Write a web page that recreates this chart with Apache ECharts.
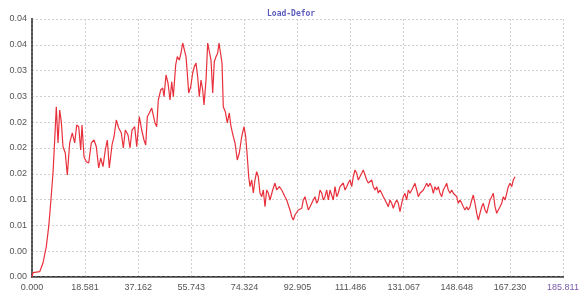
<!DOCTYPE html>
<html>
<head>
<meta charset="utf-8">
<script src="https://cdn.jsdelivr.net/npm/echarts@6/dist/echarts.min.js"></script>
<style>
  html, body { margin: 0; padding: 0; background: #fff; }
  #chart { width: 587px; height: 299px; }
</style>
</head>
<body>
<div id="chart"></div>
<script>
// values
var titleText = 'Load-Defor';
var xTickLabels = ['0.000', '18.581', '37.162', '55.743', '74.324', '92.905', '111.486', '131.067', '148.648', '167.230', '185.811'];
var xMax = 185.811;
var yMax = 0.04;
var yStep = 0.004;

var displacement = [
  0, 0.35, 2.69, 3.85, 5.0, 5.84, 6.54, 7.35, 7.94, 8.5, 9.1, 9.69, 10.25, 10.85, 11.65, 12.35, 13.19, 14.1, 14.94, 15.64,
  16.34, 17.04, 17.5, 18.2, 19.0, 19.84, 20.75, 21.7, 22.5, 23.34, 24.04, 24.85, 25.65, 26.35, 27.05, 28.0, 28.7, 29.5, 30.34, 31.25,
  31.95, 32.65, 33.6, 34.3, 35.0, 35.94, 36.64, 37.55, 38.39, 39.19, 39.79, 40.35, 41.05, 41.89, 42.45, 43.04, 43.64, 44.2, 45.04, 45.74,
  46.19, 46.89, 47.59, 48.29, 48.89, 49.45, 50.28, 50.84, 51.55, 52.14, 52.74, 53.29, 53.89, 54.34, 54.83, 55.53, 56.23, 56.79, 57.39, 57.98,
  58.54, 59.14, 59.73, 60.19, 60.89, 61.48, 62.04, 62.64, 63.23, 63.79, 64.39, 64.98, 65.44, 66.03, 66.49, 66.94, 67.64, 68.34, 69.04, 69.64,
  70.44, 71.04, 71.84, 72.54, 73.38, 74.19, 74.78, 75.34, 75.83, 76.28, 76.88, 77.44, 78.03, 78.63, 79.19, 79.78, 80.38, 80.94, 81.53, 82.13,
  82.69, 83.28, 84.23, 85.03, 85.63, 86.54, 87.38, 87.94, 88.53, 89.13, 89.69, 90.28, 90.88, 91.44, 92.03, 92.63, 93.19, 93.78, 94.38, 94.94,
  95.53, 96.13, 96.69, 97.28, 97.88, 98.44, 99.03, 99.63, 100.19, 100.78, 101.38, 101.94, 102.53, 103.13, 103.69, 104.28, 105.43, 106.03, 106.63, 107.18,
  107.78, 108.37, 108.93, 109.53, 110.12, 110.68, 111.28, 111.87, 112.43, 113.03, 113.62, 114.18, 114.78, 115.37, 115.93, 116.53, 117.12, 117.68, 118.28, 118.87,
  119.43, 120.03, 120.62, 121.18, 121.78, 122.37, 122.93, 123.53, 124.12, 124.68, 125.27, 125.87, 126.43, 127.02, 127.62, 128.18, 128.77, 129.37, 129.93, 130.52,
  131.12, 131.68, 132.27, 132.87, 133.43, 134.02, 134.62, 135.18, 135.77, 136.37, 136.93, 137.52, 138.12, 138.68, 139.27, 139.87, 140.43, 141.02, 141.62, 142.18,
  142.77, 143.37, 143.93, 144.52, 145.12, 145.67, 146.27, 146.87, 147.42, 148.02, 148.62, 149.17, 149.77, 150.37, 150.92, 151.52, 152.12, 152.67, 153.27, 153.87,
  154.42, 155.02, 155.62, 156.17, 156.77, 157.37, 157.92, 158.52, 159.12, 159.67, 160.27, 160.87, 161.42, 162.02, 162.62, 163.17, 163.77, 164.37, 164.92, 165.52,
  166.12, 166.67, 167.27, 167.87, 168.42, 169.02
];
var load = [
  0, 0.00067, 0.00082, 0.00217, 0.0047, 0.0078, 0.01147, 0.01612, 0.02124, 0.0264, 0.02078, 0.02589, 0.02408, 0.0202, 0.01922, 0.01581, 0.02078, 0.02233, 0.02078, 0.02357,
  0.0233, 0.01969, 0.02357, 0.01865, 0.01788, 0.01767, 0.02078, 0.02124, 0.0202, 0.0169, 0.01845, 0.0171, 0.01969, 0.02124, 0.0169, 0.02047, 0.02175, 0.02434, 0.0231, 0.02233,
  0.02, 0.02279, 0.02202, 0.02, 0.02279, 0.0233, 0.0202, 0.02485, 0.02279, 0.02124, 0.02047, 0.02485, 0.02543, 0.0262, 0.0262, 0.02388, 0.0233, 0.02744, 0.02899, 0.0293,
  0.02795, 0.03132, 0.03008, 0.02744, 0.03028, 0.02795, 0.03287, 0.03416, 0.03364, 0.03473, 0.03628, 0.03628, 0.03416, 0.03163, 0.02853, 0.0295, 0.03163, 0.0326, 0.03318, 0.03105,
  0.02795, 0.03054, 0.02899, 0.02667, 0.03054, 0.03628, 0.03628, 0.03364, 0.02853, 0.03338, 0.03416, 0.03473, 0.03628, 0.03628, 0.03318, 0.0264, 0.02563, 0.02388, 0.02543, 0.0233,
  0.02175, 0.02078, 0.01814, 0.01922, 0.02175, 0.0233, 0.02175, 0.01865, 0.01555, 0.014, 0.01504, 0.01302, 0.01504, 0.01633, 0.01555, 0.01302, 0.01245, 0.01349, 0.0109, 0.01349,
  0.01302, 0.01194, 0.01349, 0.01457, 0.01349, 0.014, 0.01349, 0.01349, 0.01245, 0.01194, 0.01116, 0.01039, 0.00935, 0.00884, 0.00961, 0.00988, 0.01039, 0.01039, 0.01065, 0.01194,
  0.01245, 0.01143, 0.01039, 0.0109, 0.0109, 0.01194, 0.01245, 0.01143, 0.01194, 0.01349, 0.01302, 0.01194, 0.01245, 0.01349, 0.01194, 0.01349, 0.01194, 0.014, 0.01245, 0.01302,
  0.014, 0.014, 0.01457, 0.01349, 0.014, 0.01457, 0.01504, 0.014, 0.01555, 0.01659, 0.01608, 0.01504, 0.01504, 0.01608, 0.01659, 0.01659, 0.01504, 0.01457, 0.01457, 0.01504,
  0.014, 0.01349, 0.014, 0.01302, 0.01349, 0.01298, 0.01245, 0.0122, 0.01143, 0.0109, 0.01194, 0.01143, 0.01065, 0.01143, 0.01194, 0.01143, 0.01012, 0.01143, 0.01245, 0.01298,
  0.01194, 0.01349, 0.01298, 0.01349, 0.014, 0.01453, 0.01349, 0.01245, 0.01298, 0.01298, 0.01349, 0.014, 0.01453, 0.014, 0.01453, 0.014, 0.01298, 0.014, 0.01349, 0.014,
  0.01298, 0.01245, 0.01349, 0.014, 0.01453, 0.01349, 0.01298, 0.01349, 0.01298, 0.01298, 0.01245, 0.01143, 0.01194, 0.01143, 0.0109, 0.01039, 0.0109, 0.01039, 0.0109, 0.01194,
  0.01271, 0.01143, 0.00988, 0.00884, 0.00988, 0.0109, 0.01143, 0.01039, 0.00988, 0.0109, 0.01194, 0.01245, 0.01298, 0.0109, 0.00988, 0.01039, 0.0109, 0.01143, 0.01245, 0.01194,
  0.01298, 0.014, 0.01453, 0.014, 0.01504, 0.01555
];

var points = displacement.map(function (x, i) { return [x, load[i]]; });
var xStep = xMax / (xTickLabels.length - 1);

var myChart = echarts.init(document.getElementById('chart'));
myChart.setOption({
  animation: false,
  title: {
    text: titleText,
    left: 262,
    top: 5,
    textStyle: { fontSize: 8, fontWeight: 'bold', color: '#5b5bbd', fontFamily: 'DejaVu Sans Mono' },
  },
  grid: { left: 32, right: 24, top: 19, bottom: 22 },
  xAxis: [
    {
      type: 'value',
      min: 0,
      max: xMax,
      interval: xStep,
      axisTick: { show: false },
      axisLine: { show: true, lineStyle: { color: '#333', width: 2, type: [3, 2] } },
      axisLabel: {
        margin: 6,
        fontSize: 9,
        fontFamily: 'Liberation Sans',
        showMaxLabel: true,
        color: function (value, index) {
          return Math.round(value / xStep) === xTickLabels.length - 1 ? '#7a5aa8' : '#555';
        },
        formatter: function (value) {
          return xTickLabels[Math.round(value / xStep)];
        },
      },
      splitLine: { show: true, lineStyle: { color: '#cfcfcf', width: 1, type: [2, 2] } },
    },
    {
      type: 'value',
      position: 'top',
      min: 0,
      max: xMax,
      axisTick: { show: false },
      axisLabel: { show: false },
      splitLine: { show: false },
      axisLine: { show: true, lineStyle: { color: '#777', width: 1, type: [3, 2] } },
    },
  ],
  yAxis: [
    {
      type: 'value',
      min: 0,
      max: yMax,
      interval: yStep,
      axisTick: { show: false },
      axisLine: { show: true, lineStyle: { color: '#111', width: 2 } },
      axisLabel: {
        margin: 5,
        fontSize: 9,
        fontFamily: 'Liberation Sans',
        color: '#555',
        showMaxLabel: true,
        formatter: function (value) {
          return value.toFixed(2);
        },
      },
      splitLine: { show: true, lineStyle: { color: '#cfcfcf', width: 1, type: [2, 2] } },
    },
    {
      type: 'value',
      position: 'right',
      min: 0,
      max: yMax,
      axisTick: { show: false },
      axisLabel: { show: false },
      splitLine: { show: false },
      axisLine: { show: true, lineStyle: { color: '#666', width: 2, type: [2, 2] } },
    },
  ],
  series: [
    {
      type: 'line',
      data: points,
      symbol: 'none',
      lineStyle: { color: '#e8303c', width: 1.2 },
    },
  ],
});
</script>
</body>
</html>
